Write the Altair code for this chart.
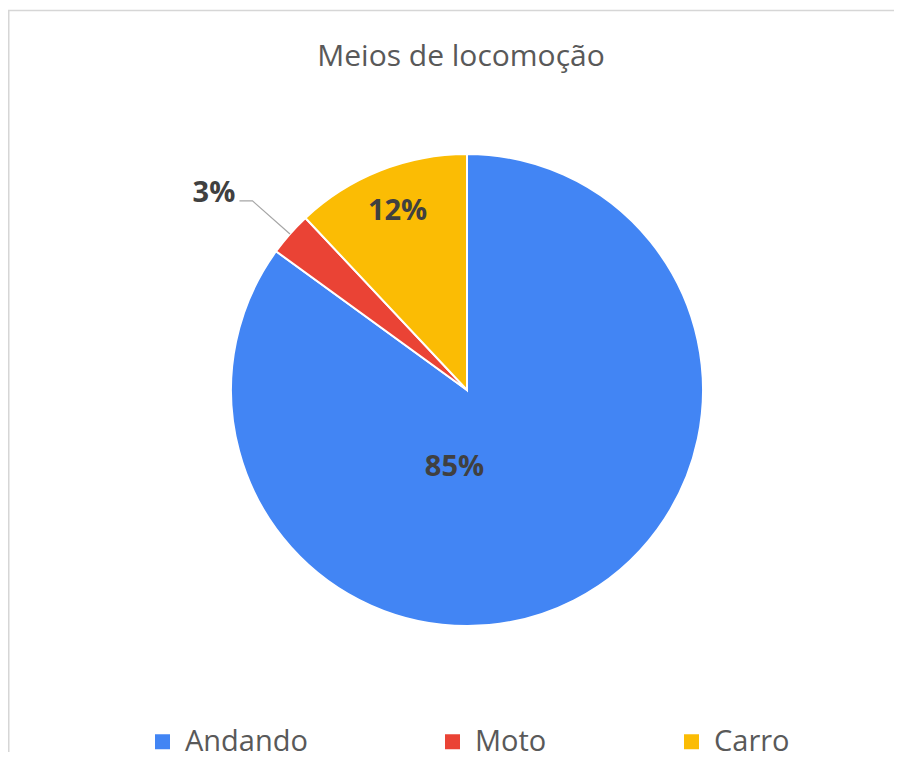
import math
import altair as alt
import pandas as pd

# ---- data ----
title_text = "Meios de locomoção"
categories = ["Andando", "Moto", "Carro"]
values = [85, 3, 12]
labels = ["85%", "3%", "12%"]
colors = ["#4285F4", "#EA4335", "#FBBC04"]

# ---- layout ----
W, H = 886, 744
CX, CY = 459, 382
R = 236
FONT = "Open Sans"
total = sum(values)

df = pd.DataFrame({"cat": categories, "val": values, "label": labels,
                   "idx": list(range(len(categories)))})

theta_scale = alt.Scale(domain=[0, total], range=[0, 2 * math.pi])

pie = alt.Chart(df).mark_arc(outerRadius=R, stroke="white", strokeWidth=2).encode(
    theta=alt.Theta("val:Q", stack=True),
    order=alt.Order("idx:Q"),
    color=alt.Color(
        "cat:N",
        scale=alt.Scale(domain=categories, range=colors),
        legend=alt.Legend(
            title=None, orient="none", direction="horizontal", columns=3,
            legendX=140, legendY=719, symbolType="square", symbolSize=225,
            symbolStrokeWidth=0, labelFont=FONT, labelFontSize=29,
            labelColor="#595959", labelOffset=8, columnPadding=130, padding=0,
        ),
    ),
    x=alt.value(CX),
    y=alt.value(CY),
)


def label_layer(cat, radius, dx, dy):
    return (
        alt.Chart(df)
        .transform_window(cum="sum(val)", sort=[alt.SortField("idx")], frame=[None, 0])
        .transform_calculate(mid="datum.cum - datum.val / 2")
        .transform_filter(alt.datum.cat == cat)
        .mark_text(radius=radius, dx=dx, dy=dy, font=FONT, fontSize=29,
                   fontWeight="bold", color="#404040", baseline="alphabetic",
                   align="center")
        .encode(theta=alt.Theta("mid:Q", scale=theta_scale, stack=None),
                text="label:N", x=alt.value(CX), y=alt.value(CY))
    )


t85 = label_layer("Andando", 76, -47, 18)
t12 = label_layer("Carro", 194, 2, 10)
t3 = label_layer("Moto", 320, -13, 24)

# leader line for the small slice, derived from its mid angle
i = categories.index("Moto")
mid_ang = (sum(values[:i]) + values[i] / 2) / total * 2 * math.pi
p1 = (CX + R * math.sin(mid_ang), CY - R * math.cos(mid_ang))
p2 = (CX + (R + 50) * math.sin(mid_ang), CY - (R + 50) * math.cos(mid_ang))
p3 = (p2[0] - 13, p2[1])
leader_df = pd.DataFrame({"px": [p1[0], p2[0], p3[0]], "py": [p1[1], p2[1], p3[1]], "k": [0, 1, 2]})
leader = alt.Chart(leader_df).mark_line(color="#a6a6a6", strokeWidth=1.2).encode(
    x=alt.X("px:Q", scale=None, axis=None),
    y=alt.Y("py:Q", scale=None, axis=None),
    order="k:Q",
)

title = alt.Chart(pd.DataFrame({"t": [title_text]})).mark_text(
    font=FONT, fontSize=30, color="#595959", baseline="alphabetic", align="center"
).encode(text="t:N", x=alt.value(453), y=alt.value(58))

border_top = alt.Chart(pd.DataFrame({"a": [0]})).mark_rule(color="#d6d6d6", strokeWidth=1.5).encode(
    x=alt.value(0), x2=alt.value(W), y=alt.value(2.5)
)
border_left = alt.Chart(pd.DataFrame({"a": [0]})).mark_rule(color="#d6d6d6", strokeWidth=1.5).encode(
    x=alt.value(0.75), y=alt.value(2), y2=alt.value(H)
)

chart = (
    alt.layer(border_top, border_left, title, pie, leader, t85, t12, t3)
    .properties(width=W, height=H, padding=0, autosize=alt.AutoSizeParams(type="none"),
                background="white")
    .configure_view(strokeWidth=0)
)

chart.save("out.html", embed_options={"renderer": "svg", "actions": False})
